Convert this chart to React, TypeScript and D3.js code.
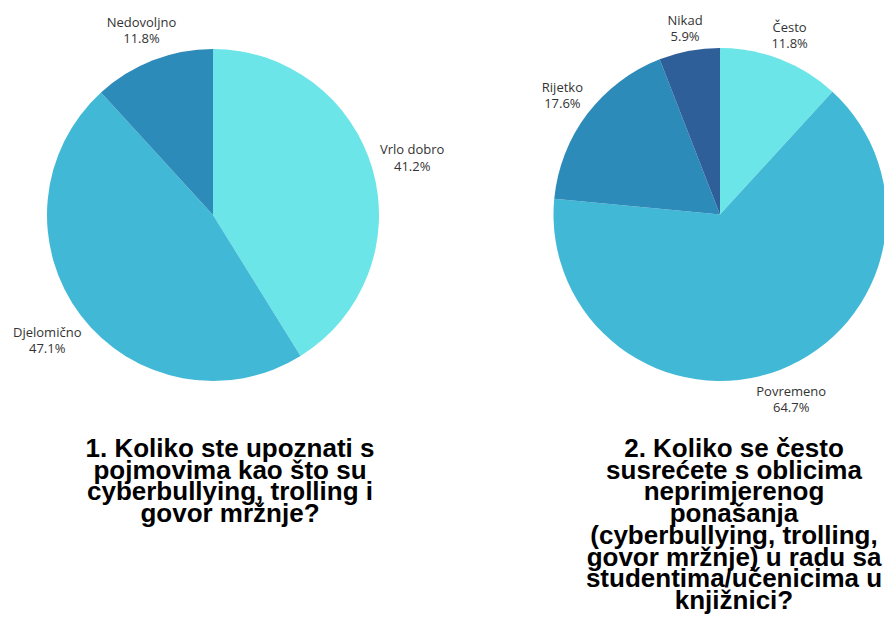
import React, { useEffect, useRef } from 'react';
import * as d3 from 'd3';

const W = 884;
const H = 619;

const q1Labels = ['Vrlo dobro', 'Djelomično', 'Nedovoljno'];
const q1Values = [41.2, 47.1, 11.8];
const q1Colors = ['#6ce5e8', '#41b8d5', '#2d8bba'];
const q1Title = ['1. Koliko ste upoznati s', 'pojmovima kao što su', 'cyberbullying, trolling i', 'govor mržnje?'];

const q2Labels = ['Često', 'Povremeno', 'Rijetko', 'Nikad'];
const q2Values = [11.8, 64.7, 17.6, 5.9];
const q2Colors = ['#6ce5e8', '#41b8d5', '#2d8bba', '#2f5f98'];
const q2Title = [
  '2. Koliko se često',
  'susrećete s oblicima',
  'neprimjerenog',
  'ponašanja',
  '(cyberbullying, trolling,',
  'govor mržnje) u radu sa',
  'studentima/učenicima u',
  'knjižnici?',
];

const labelFont = "13px 'Open Sans'";

function textWidth(s: string, font: string) {
  const ctx = document.createElement('canvas').getContext('2d');
  if (!ctx) return s.length * 7;
  ctx.font = font;
  return ctx.measureText(s).width;
}

type Slice = { label: string; value: number; color: string };

function drawPie(
  svg: d3.Selection<SVGSVGElement, unknown, null, undefined>,
  labels: string[],
  values: number[],
  colors: string[],
  title: string[],
  cx: number,
  cy: number,
  r: number,
  titleX: number
) {
  const data: Slice[] = labels.map((l, i) => ({ label: l, value: values[i], color: colors[i] }));
  const pie = d3
    .pie<Slice>()
    .sort(null)
    .value((d) => d.value);
  const arc = d3.arc<d3.PieArcDatum<Slice>>().innerRadius(0).outerRadius(r);
  const arcs = pie(data);

  const g = svg.append('g').attr('transform', `translate(${cx},${cy})`);
  g.selectAll('path')
    .data(arcs)
    .enter()
    .append('path')
    .attr('d', arc)
    .attr('fill', (d) => d.data.color);

  // outside labels: box pushed out along the mid angle until it clears the rim
  arcs.forEach((a) => {
    const mid = (a.startAngle + a.endAngle) / 2;
    const sx = Math.sin(mid);
    const sy = -Math.cos(mid);
    const pct = `${a.data.value.toFixed(1)}%`;
    const w = Math.max(textWidth(a.data.label, labelFont), textWidth(pct, labelFont));
    const dist = r + 6.5 + Math.abs(sx) * (w / 2) + Math.abs(sy) * 13.5;
    const lx = dist * sx;
    const ly = dist * sy;
    const t = g
      .append('text')
      .attr('text-anchor', 'middle')
      .style('font-family', "'Open Sans', sans-serif")
      .style('font-size', '13px')
      .style('fill', '#333');
    t.append('tspan').attr('x', lx).attr('y', ly - 3.75).text(a.data.label);
    t.append('tspan').attr('x', lx).attr('y', ly + 12.75).text(pct);
  });

  // title
  const tt = svg
    .append('text')
    .attr('text-anchor', 'middle')
    .style('font-family', "'Liberation Sans', Arial, sans-serif")
    .style('font-weight', 'bold')
    .style('font-size', '26px')
    .style('fill', '#000');
  title.forEach((line, i) => {
    tt.append('tspan').attr('x', titleX).attr('y', 457 + i * 21.7).text(line);
  });
}

export default function App() {
  const svgRef = useRef<SVGSVGElement>(null);

  useEffect(() => {
    if (!svgRef.current) return;
    const svg = d3.select(svgRef.current);
    svg.selectAll('*').remove();
    drawPie(svg, q1Labels, q1Values, q1Colors, q1Title, 213, 215, 166, 230);
    drawPie(svg, q2Labels, q2Values, q2Colors, q2Title, 720, 214.5, 166.5, 734);
  }, []);

  return (
    <svg
      ref={svgRef}
      width={W}
      height={H}
      style={{ position: 'absolute', left: 0, top: 0, background: '#fff', overflow: 'hidden' }}
    />
  );
}
